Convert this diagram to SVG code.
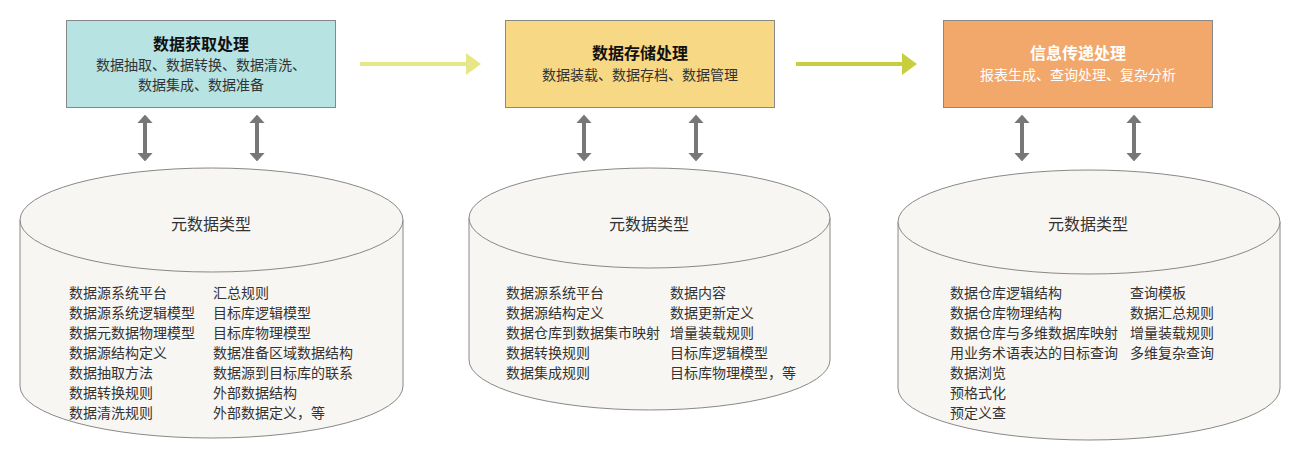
<svg xmlns="http://www.w3.org/2000/svg" width="1302" height="465" viewBox="0 0 1302 465">
<style>
text{font-family:"Noto Sans CJK SC","Noto Sans",sans-serif;fill:#333}
.t{font-size:16px;font-weight:bold;text-anchor:middle;fill:#111}
.s{font-size:14px;text-anchor:middle}
.l{font-size:14px}
.h{font-size:16px;text-anchor:middle}
.box{stroke:#888;stroke-width:1}
.cyl{fill:#f8f6f2;stroke:#888;stroke-width:1}
.dbl{stroke:#777;stroke-width:4;marker-start:url(#ga);marker-end:url(#ga)}
</style>
<defs>
<marker id="ga" viewBox="0 0 10 18" refX="5" refY="9" markerWidth="2.2" markerHeight="4.4" orient="auto-start-reverse" markerUnits="strokeWidth"><path d="M0,0 L10,9 L0,18Z" fill="#777"/></marker>
</defs>
<rect width="1302" height="465" fill="#fff"/>
<g id="connectors">
<line x1="360" y1="64" x2="468" y2="64" stroke="#e6e888" stroke-width="4"/><path d="M466,53 L481,64 L466,75Z" fill="#e6e888"/>
<line x1="796" y1="64" x2="904" y2="64" stroke="#c9cf3c" stroke-width="4"/><path d="M902,53 L917,64 L902,75Z" fill="#c9cf3c"/>
<line class="dbl" x1="145" y1="119" x2="145" y2="157"/>
<line class="dbl" x1="257" y1="119" x2="257" y2="157"/>
<line class="dbl" x1="584" y1="119" x2="584" y2="157"/>
<line class="dbl" x1="696" y1="119" x2="696" y2="157"/>
<line class="dbl" x1="1022" y1="119" x2="1022" y2="157"/>
<line class="dbl" x1="1134" y1="119" x2="1134" y2="157"/>
</g>
<g id="box1"><rect class="box" x="66.5" y="20.5" width="269" height="87" fill="#b7e3e3"/>
<text class="t" x="201" y="50">数据获取处理</text>
<text class="s" x="201" y="70">数据抽取、数据转换、数据清洗、</text>
<text class="s" x="201" y="90">数据集成、数据准备</text></g>
<g id="box2"><rect class="box" x="505.5" y="20.5" width="269" height="87" fill="#f7d884"/>
<text class="t" x="640" y="59">数据存储处理</text>
<text class="s" x="640" y="80">数据装载、数据存档、数据管理</text></g>
<g id="box3"><rect class="box" x="943.5" y="20.5" width="269" height="87" fill="#f2a86a"/>
<text class="t" x="1078" y="59" style="fill:#fff">信息传递处理</text>
<text class="s" x="1078" y="80" style="fill:#fff">报表生成、查询处理、复杂分析</text></g>
<g id="cyl1">
<path class="cyl" d="M20,220 L20,386 A191.5,52 0 0 0 403,386 L403,220Z"/>
<ellipse class="cyl" cx="211.5" cy="220" rx="191.5" ry="52"/>
<text class="h" x="211" y="230">元数据类型</text>
<text class="l" x="69" y="298">数据源系统平台</text><text class="l" x="69" y="318">数据源系统逻辑模型</text><text class="l" x="69" y="338">数据元数据物理模型</text><text class="l" x="69" y="358">数据源结构定义</text><text class="l" x="69" y="378">数据抽取方法</text><text class="l" x="69" y="398">数据转换规则</text><text class="l" x="69" y="418">数据清洗规则</text>
<text class="l" x="213" y="298">汇总规则</text><text class="l" x="213" y="318">目标库逻辑模型</text><text class="l" x="213" y="338">目标库物理模型</text><text class="l" x="213" y="358">数据准备区域数据结构</text><text class="l" x="213" y="378">数据源到目标库的联系</text><text class="l" x="213" y="398">外部数据结构</text><text class="l" x="213" y="418">外部数据定义，等</text>
</g>
<g id="cyl2">
<path class="cyl" d="M469,218 L469,360 A180.5,50 0 0 0 830,360 L830,218Z"/>
<ellipse class="cyl" cx="649.5" cy="218" rx="180.5" ry="50"/>
<text class="h" x="649" y="230">元数据类型</text>
<text class="l" x="506" y="298">数据源系统平台</text><text class="l" x="506" y="318">数据源结构定义</text><text class="l" x="506" y="338">数据仓库到数据集市映射</text><text class="l" x="506" y="358">数据转换规则</text><text class="l" x="506" y="378">数据集成规则</text>
<text class="l" x="670" y="298">数据内容</text><text class="l" x="670" y="318">数据更新定义</text><text class="l" x="670" y="338">增量装载规则</text><text class="l" x="670" y="358">目标库逻辑模型</text><text class="l" x="670" y="378">目标库物理模型，等</text>
</g>
<g id="cyl3">
<path class="cyl" d="M898,222 L898,388 A191,52 0 0 0 1280,388 L1280,222Z"/>
<ellipse class="cyl" cx="1089" cy="222" rx="191" ry="52"/>
<text class="h" x="1088" y="230">元数据类型</text>
<text class="l" x="950" y="298">数据仓库逻辑结构</text><text class="l" x="950" y="318">数据仓库物理结构</text><text class="l" x="950" y="338">数据仓库与多维数据库映射</text><text class="l" x="950" y="358">用业务术语表达的目标查询</text><text class="l" x="950" y="378">数据浏览</text><text class="l" x="950" y="398">预格式化</text><text class="l" x="950" y="418">预定义查</text>
<text class="l" x="1130" y="298">查询模板</text><text class="l" x="1130" y="318">数据汇总规则</text><text class="l" x="1130" y="338">增量装载规则</text><text class="l" x="1130" y="358">多维复杂查询</text>
</g>
</svg>
